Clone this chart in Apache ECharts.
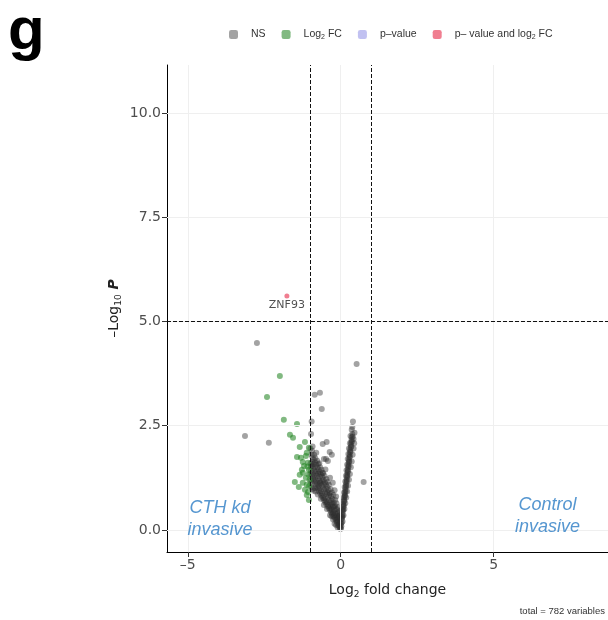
<!DOCTYPE html>
<html>
<head>
<meta charset="utf-8">
<script src="https://cdn.jsdelivr.net/npm/echarts@6/dist/echarts.min.js"></script>
<style>html,body{margin:0;padding:0;background:#fff}#c{width:608px;height:620px}</style>
</head>
<body>
<div id="c"></div>
<script>
// ---------- data ----------
const xTicks = [-5, 0, 5];
const yTicks = [0, 2.5, 5, 7.5, 10];
const fcCut = [-1, 1];
const pCut = 5;
const legendNames = ['NS', 'Log2 FC', 'p-value', 'p - value and log2 FC'];

const nsPoints = [
  // right arm
  [0.01,0.04],[0.02,0.09],[0.015,0.15],[0.03,0.18],[0.035,0.26],[0.045,0.3],[0.05,0.37],[0.06,0.33],[0.065,0.44],[0.07,0.5],
  [0.08,0.47],[0.085,0.56],[0.09,0.61],[0.1,0.58],[0.105,0.68],[0.11,0.73],[0.12,0.7],[0.125,0.79],[0.13,0.84],[0.14,0.82],
  [0.145,0.9],[0.15,0.96],[0.16,0.93],[0.165,1.02],[0.17,1.08],[0.18,1.05],[0.185,1.14],[0.19,1.2],[0.2,1.17],[0.205,1.26],
  [0.21,1.32],[0.22,1.29],[0.225,1.38],[0.23,1.44],[0.24,1.41],[0.245,1.5],[0.25,1.56],[0.26,1.53],[0.265,1.62],[0.27,1.68],
  [0.28,1.64],[0.285,1.74],[0.29,1.8],[0.3,1.76],[0.305,1.86],[0.31,1.92],[0.32,1.88],[0.33,1.98],[0.335,2.04],[0.34,2.1],
  [0.35,2.0],[0.355,2.16],[0.36,2.22],[0.37,2.12],[0.38,2.3],[0.39,2.24],
  [0.06,0.2],[0.09,0.35],[0.12,0.5],[0.15,0.64],[0.18,0.78],[0.21,0.92],[0.24,1.06],[0.27,1.2],[0.3,1.34],[0.33,1.5],
  [0.36,1.64],[0.39,1.8],[0.42,1.95],[0.44,2.08],
  [0.03,0.32],[0.05,0.48],[0.07,0.63],[0.09,0.77],[0.11,0.9],[0.13,1.03],[0.15,1.16],[0.17,1.3],[0.19,1.43],[0.21,1.56],
  [0.23,1.7],[0.25,1.82],[0.27,1.95],[0.3,2.08],[0.32,2.25],
  [0.38,2.47],[0.45,2.33],[0.4,2.6],[0.36,2.4],[0.42,2.18],
  [0.52,3.98],[0.75,1.15],
  // left arm
  [-0.01,0.02],[-0.03,0.05],[-0.02,0.1],[-0.05,0.08],[-0.06,0.15],[-0.04,0.22],[-0.08,0.12],[-0.09,0.2],[-0.1,0.28],[-0.07,0.32],
  [-0.12,0.18],[-0.13,0.25],[-0.15,0.22],[-0.14,0.35],[-0.11,0.42],[-0.17,0.3],[-0.18,0.4],[-0.2,0.28],[-0.16,0.5],[-0.21,0.36],
  [-0.22,0.47],[-0.24,0.33],[-0.19,0.58],[-0.25,0.41],[-0.26,0.55],[-0.28,0.38],[-0.23,0.66],[-0.29,0.48],[-0.3,0.6],[-0.31,0.42],
  [-0.27,0.74],[-0.33,0.5],[-0.34,0.65],[-0.35,0.47],[-0.32,0.8],[-0.37,0.56],[-0.38,0.72],[-0.39,0.52],[-0.36,0.88],[-0.41,0.6],
  [-0.42,0.78],[-0.43,0.57],[-0.4,0.95],[-0.45,0.66],[-0.46,0.85],[-0.47,0.62],[-0.44,1.02],[-0.49,0.7],[-0.5,0.9],[-0.51,0.67],
  [-0.48,1.08],[-0.53,0.76],[-0.54,0.96],[-0.55,0.72],[-0.52,1.14],[-0.57,0.82],[-0.58,1.02],[-0.59,0.77],[-0.56,1.2],[-0.61,0.88],
  [-0.62,1.07],[-0.63,0.82],[-0.6,1.26],[-0.65,0.94],[-0.66,1.13],[-0.67,0.88],[-0.64,1.32],[-0.69,1.0],[-0.7,1.18],[-0.71,0.93],
  [-0.68,1.38],[-0.73,1.06],[-0.74,1.24],[-0.75,0.99],[-0.72,1.44],[-0.77,1.12],[-0.78,1.3],[-0.79,1.04],[-0.76,1.5],[-0.81,1.18],
  [-0.82,1.36],[-0.83,1.1],[-0.8,1.56],[-0.85,1.24],[-0.86,1.42],[-0.87,1.16],[-0.84,1.62],[-0.89,1.3],[-0.9,1.48],[-0.91,1.22],
  [-0.88,1.68],[-0.93,1.36],[-0.94,1.54],[-0.95,1.28],[-0.92,1.74],[-0.97,1.42],[-0.98,1.6],[-0.99,1.34],[-0.96,1.8],
  [-0.15,0.12],[-0.25,0.25],[-0.35,0.35],[-0.45,0.5],[-0.55,0.6],[-0.65,0.75],[-0.75,0.85],[-0.85,1.0],[-0.95,1.12],
  [-0.2,0.15],[-0.3,0.33],[-0.1,0.06],[-0.05,0.3],[-0.08,0.4],[-0.12,0.5],[-0.02,0.18],[-0.03,0.36],
  [-0.04,0.45],[-0.09,0.55],[-0.14,0.64],[-0.18,0.72],[-0.24,0.84],[-0.29,0.9],[-0.33,0.98],[-0.39,1.08],[-0.43,1.15],[-0.47,1.22],
  [-0.53,1.3],[-0.58,1.36],[-0.63,1.44],[-0.67,1.5],[-0.73,1.58],[-0.77,1.66],[-0.83,1.72],[-0.87,1.8],[-0.94,1.9],[-0.99,1.95],
  [-0.98,1.18],[-0.96,1.02],[-0.92,0.98],[-0.88,0.94],[-0.82,0.92],[-0.97,1.52],[-0.93,1.63],[-0.9,1.58],[-0.85,1.5],[-0.79,1.4],
  [-0.74,1.35],[-0.69,1.28],[-0.61,1.17],[-0.57,1.1],[-0.49,0.98],[-0.44,0.9],[-0.38,0.83],[-0.31,0.7],[-0.27,0.62],[-0.21,0.55],
  [-0.59,2.06],[-0.46,2.11],[-0.36,1.87],[-0.29,1.8],[-0.42,1.65],[-0.48,1.7],[-0.59,1.37],[-0.26,1.13],[-0.68,1.13],
  [-0.62,2.9],[-0.85,3.24],[-0.68,3.29],[-0.95,2.6],
  [-0.2,0.95],[-0.15,0.8],[-0.35,1.25],[-0.5,1.45],[-0.7,1.6],[-0.8,1.85],[-0.92,2.0],[-0.97,2.3],[-0.55,1.7],
  // left outliers beyond FC cut that render grey
  [-2.74,4.48],[-3.13,2.25],[-2.35,2.09]
];

const fcPoints = [
  [-1.99,3.69],[-2.41,3.19],[-1.86,2.64],[-1.43,2.54],[-1.66,2.28],[-1.56,2.21],[-1.34,1.99],[-1.17,2.11],[-1.11,1.85],[-1.43,1.75],
  [-1.24,1.63],[-1.07,1.61],[-1.27,1.44],[-1.24,1.37],[-1.34,1.32],[-1.5,1.15],[-1.24,1.13],[-1.11,1.08],[-1.17,0.96],[-1.07,0.91],
  [-1.11,0.84],[-1.14,1.25],[-1.04,1.44],[-1.2,1.53],[-1.3,1.73],[-1.14,1.77],[-1.04,1.97],[-1.37,1.03],[-1.04,0.72],[-1.02,1.2],
  [-1.06,1.33],[-1.09,1.52],[-1.03,1.05]
];

const pPoints = [];

const bothPoints = [[-1.76,5.61,'ZNF93']];

const regionLabels = [
  [-3.95, 0.26, 'CTH kd\ninvasive'],
  [6.76, 0.34, 'Control\ninvasive']
];

// ---------- chart ----------
const chart = echarts.init(document.getElementById('c'), null, {renderer: 'canvas'});
const axisFont = 'DejaVu Sans';

const gridLines = [];
xTicks.forEach(v => gridLines.push({xAxis: v}));
yTicks.forEach(v => gridLines.push({yAxis: v}));

const option = {
  animation: false,
  backgroundColor: '#fff',
  grid: {left: 167, top: 65, right: 0, bottom: 68, containLabel: false},
  legend: {
    data: legendNames,
    top: 24, left: 224,
    itemWidth: 9, itemHeight: 9, itemGap: 16,
    icon: 'roundRect',
    textStyle: {
      fontSize: 10.5, color: '#333', fontFamily: 'Liberation Sans', padding: [0,0,0,8],
      rich: {s: {fontSize: 7, padding: [5,0,0,0], fontFamily: 'Liberation Sans', color: '#333'}}
    },
    formatter: function (n) {
      if (n === 'Log2 FC') return 'Log{s|2} FC';
      if (n === 'p - value and log2 FC') return 'p\u2013 value and log{s|2} FC';
      if (n === 'p-value') return 'p\u2013value';
      return n;
    }
  },
  xAxis: {
    type: 'value', min: -5.68, max: 8.74,
    name: '{a|Log}{s|2}{a| fold change}', nameLocation: 'middle', nameGap: 30, nameMoveOverlap: false,
    nameTextStyle: {
      rich: {
        a: {fontSize: 14, color: '#222', fontFamily: axisFont},
        s: {fontSize: 9, color: '#222', fontFamily: axisFont, padding: [8,0,0,0]}
      }
    },
    axisLine: {onZero: false, lineStyle: {color: '#000', width: 1}},
    axisTick: {show: true, length: 5, customValues: xTicks, lineStyle: {color: '#333'}},
    axisLabel: {customValues: xTicks, color: '#4d4d4d', fontSize: 14, fontFamily: axisFont, margin: 6,
      formatter: v => (v < 0 ? '\u2013' + Math.abs(v) : String(v))},
    splitLine: {show: false}
  },
  yAxis: {
    type: 'value', min: -0.53, max: 11.15,
    name: '{a|\u2013Log}{s|10}{p| P}', nameLocation: 'middle', nameGap: 44, nameRotate: 90, nameMoveOverlap: false,
    nameTextStyle: {
      rich: {
        a: {fontSize: 14, color: '#222', fontFamily: axisFont},
        s: {fontSize: 9, color: '#222', fontFamily: axisFont, padding: [8,0,0,0]},
        p: {fontSize: 14, color: '#222', fontFamily: axisFont, fontStyle: 'italic', fontWeight: 'bold'}
      }
    },
    axisLine: {onZero: false, lineStyle: {color: '#000', width: 1}},
    axisTick: {show: true, length: 5, customValues: yTicks, lineStyle: {color: '#333'}},
    axisLabel: {customValues: yTicks, color: '#4d4d4d', fontSize: 14, fontFamily: axisFont, margin: 6,
      formatter: v => v.toFixed(1)},
    splitLine: {show: false}
  },
  graphic: [
    {type: 'text', left: 8, top: 2, style: {text: 'g', font: 'bold 60px "Liberation Sans"', fill: '#000'}},
    {type: 'text', right: 3, bottom: 4, style: {text: 'total = 782 variables', font: '9.5px "Liberation Sans"', fill: '#333'}}
  ],
  series: [
    {
      name: 'grid', type: 'scatter', data: [], silent: true, z: 0,
      markLine: {silent: true, symbol: ['none','none'], label: {show: false}, animation: false,
        lineStyle: {color: '#efefef', width: 1, type: 'solid'}, data: gridLines}
    },
    {
      name: 'NS', type: 'scatter', data: nsPoints, symbolSize: 6, z: 2,
      itemStyle: {color: 'rgba(45,45,45,0.55)'},
      markLine: {silent: true, symbol: ['none','none'], label: {show: false}, animation: false, z: 5,
        lineStyle: {color: '#111', width: 1, type: [4, 2]},
        data: [{xAxis: fcCut[0]}, {xAxis: fcCut[1]}, {yAxis: pCut}]}
    },
    {
      name: 'Log2 FC', type: 'scatter', data: fcPoints, symbolSize: 6, z: 3,
      itemStyle: {color: 'rgba(30,130,30,0.7)'}
    },
    {
      name: 'p-value', type: 'scatter', data: pPoints, symbolSize: 6, z: 3,
      itemStyle: {color: 'rgba(100,100,220,0.5)'}
    },
    {
      name: 'p - value and log2 FC', type: 'scatter', data: bothPoints, symbolSize: 5, z: 4,
      itemStyle: {color: 'rgba(230,40,70,0.75)'},
      label: {show: true, position: 'bottom', distance: 1, formatter: p => p.data[2],
        fontSize: 11, color: '#222', fontFamily: axisFont}
    },
    {
      name: 'regions', type: 'scatter', data: regionLabels, symbolSize: 0, silent: true, z: 6,
      label: {show: true, position: 'inside', formatter: p => p.data[2],
        fontSize: 18, fontStyle: 'italic', color: '#2a7cc4', fontFamily: 'Liberation Sans', lineHeight: 22, align: 'center'}
    }
  ]
};
chart.setOption(option);
</script>
</body>
</html>
